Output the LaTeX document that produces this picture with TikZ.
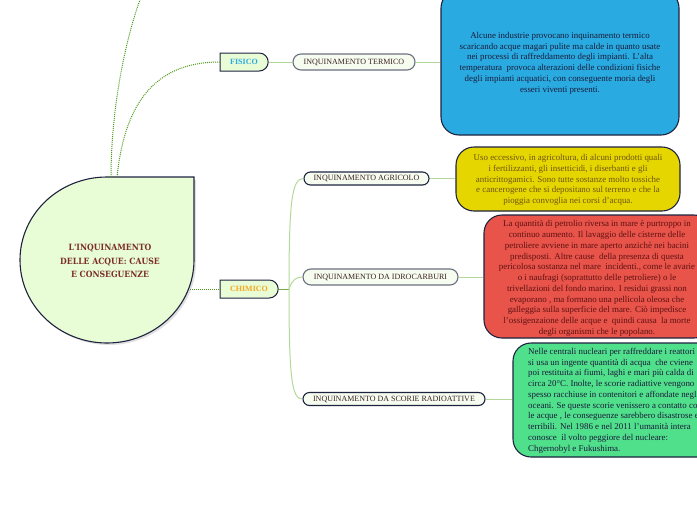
\documentclass[tikz,border=0pt]{standalone}
\usepackage{fontspec}
\setmainfont{Liberation Serif}
\newfontfamily\titlefont{DejaVu Serif Condensed}
\usetikzlibrary{shapes.misc}
\definecolor{navy}{HTML}{1E2340}
\definecolor{pillgray}{HTML}{6B7080}
\definecolor{catfill}{HTML}{E8FCD6}
\definecolor{pillfill}{HTML}{F6FDF0}
\definecolor{dotgreen}{HTML}{4F9A1C}
\definecolor{lightgreen}{HTML}{B3D89A}
\definecolor{midgreen}{HTML}{78AE4C}
\definecolor{fisicoblue}{HTML}{29A9E0}
\definecolor{chimicoorange}{HTML}{F5A820}
\definecolor{titlered}{HTML}{7B2D26}
\definecolor{pilltext}{HTML}{3B2020}
\definecolor{bluefill}{HTML}{29ABE2}
\definecolor{yellowfill}{HTML}{E6D600}
\definecolor{yellowtext}{HTML}{6B5410}
\definecolor{redfill}{HTML}{E8534A}
\definecolor{redtext}{HTML}{5E1212}
\definecolor{greenfill}{HTML}{50E08C}
\definecolor{darktext}{HTML}{1A1A38}
\tikzset{
  x=1pt, y=-1pt,
  catnode/.style={rounded rectangle, rounded rectangle west arc=none, draw=navy, line width=1pt,
    fill=catfill, inner sep=0pt, minimum width=48pt, minimum height=18pt,
    font=\fontsize{8}{9}\selectfont\bfseries},
  pill/.style={rounded rectangle, draw=navy, line width=1.1pt, fill=pillfill, inner sep=0pt,
    text=pilltext, font=\fontsize{8}{9}\selectfont},
  bigbox/.style={draw=navy, line width=1.1pt, rounded corners=18pt, inner sep=0pt},
  boxtext/.style={inner sep=0pt, font=\fontsize{8.9}{10.75}\selectfont},
  dotline/.style={draw=dotgreen, line width=1pt, densely dotted},
  lightline/.style={draw=lightgreen, line width=1pt},
  midline/.style={draw=midgreen, line width=1pt},
}
\begin{document}
\begin{tikzpicture}
\useasboundingbox (0,0) rectangle (697,520);
% central node
\fill[black!12] (196,180) -- (196,262) .. controls (196,307.8) and (157.05,345) .. (109,345)
  .. controls (60.95,345) and (22,307.8) .. (22,262)
  .. controls (22,216.2) and (60.95,179) .. (109,179) -- cycle;
\draw[navy, line width=1.1pt, fill=catfill] (194,177) -- (194,260) .. controls (194,305.8) and (155.05,343) .. (107,343)
  .. controls (58.95,343) and (20,305.8) .. (20,260)
  .. controls (20,214.2) and (58.95,177) .. (107,177) -- cycle;
\node[align=center, text=titlered, font=\titlefont\bfseries\fontsize{8.6}{13.3}\selectfont] (centre) at (110,261)
  {L'INQUINAMENTO\\DELLE ACQUE: CAUSE\\E CONSEGUENZE};
\coordinate (ctopA) at (111,177);
\coordinate (ctopB) at (117,177);
\coordinate (cright) at (190,289);
\coordinate (offtop) at (141,-3);

% category nodes
\node[catnode, text=fisicoblue] (fisico) at (244,62) {FISICO};
\node[catnode, text=chimicoorange, minimum width=58pt] (chimico) at (249,289) {CHIMICO};

% pills
\node[pill, draw=pillgray, minimum width=122pt, minimum height=16pt] (termico) at (354,62) {INQUINAMENTO TERMICO};
\node[pill, minimum width=125pt, minimum height=13pt] (agricolo) at (366.5,178.5) {INQUINAMENTO AGRICOLO};
\node[pill, draw=pillgray, minimum width=155pt, minimum height=16pt] (idro) at (380.5,277) {INQUINAMENTO DA IDROCARBURI};
\node[pill, minimum width=182pt, minimum height=13pt] (scorie) at (394,399) {INQUINAMENTO DA SCORIE RADIOATTIVE};

% big boxes
\node[bigbox, fill=bluefill, minimum width=238pt, minimum height=145pt] (blue) at (560,62.5) {};
\node[boxtext, text=darktext, align=center] (bluetext) at (560,63)
  {Alcune industrie provocano inquinamento termico\\
   scaricando acque magari pulite ma calde in quanto usate\\
   nei processi di raffreddamento degli impianti. L'alta\\
   temperatura\ \ provoca alterazioni delle condizioni fisiche\\
   degli impianti acquatici, con conseguente moria degli\\
   esseri viventi presenti.};
\node[bigbox, fill=yellowfill, minimum width=224pt, minimum height=64pt] (yellow) at (568,179) {};
\node[boxtext, text=yellowtext, align=center] (yellowtext) at (568,180)
  {Uso eccessivo, in agricoltura, di alcuni prodotti quali\\
   i fertilizzanti, gli insetticidi, i diserbanti e gli\\
   anticrittogamici. Sono tutte sostanze molto tossiche\\
   e cancerogene che si depositano sul terreno e che la\\
   pioggia convoglia nei corsi d'acqua.};
\node[bigbox, fill=redfill, minimum width=228pt, minimum height=123pt] (red) at (598,276.5) {};
\node[boxtext, text=redtext, align=center] (redtext) at (597,278.5)
  {La quantità di petrolio riversa in mare è purtroppo in\\
   continuo aumento. Il lavaggio delle cisterne delle\\
   petroliere avviene in mare aperto anzichè nei bacini\\
   predisposti. Altre cause\ \ della presenza di questa\\
   pericolosa sostanza nel mare\ \ incidenti., come le avarie\\
   o i naufragi (soprattutto delle petroliere) o le\\
   trivellazioni del fondo marino. I residui grassi non\\
   evaporano , ma formano una pellicola oleosa che\\
   galleggia sulla superficie del mare. Ciò impedisce\\
   l'ossigenzaione delle acque e\ \ quindi causa\ \ la morte\\
   degli organismi che le popolano.};
\node[bigbox, fill=greenfill, minimum width=210pt, minimum height=114pt] (green) at (618,400) {};
\node[boxtext, text=darktext, align=left, anchor=west] (greentext) at (528,400.5)
  {Nelle centrali nucleari per raffreddare i reattori\\
   si usa un ingente quantità di acqua\ \ che cviene\\
   poi restituita ai fiumi, laghi e mari più calda di\\
   circa 20°C. Inolte, le scorie radiattive vengono\\
   spesso racchiuse in contenitori e affondate negli\\
   oceani. Se queste scorie venissero a contatto con\\
   le acque , le conseguenze sarebbero disastrose e\\
   terribili. Nel 1986 e nel 2011 l'umanità intera\\
   conosce\ \ il volto peggiore del nucleare:\\
   Chgernobyl e Fukushima.};

% connectors
\draw[dotline] (ctopA) .. controls (111,110) and (125,40) .. (offtop);
\draw[dotline] (ctopB) .. controls (124,110) and (150,62) .. (fisico.west);
\draw[dotline] (cright) -- (chimico.west);
\draw[lightline] (fisico.east) -- (termico.west);
\draw[lightline] (termico.east) -- (blue.west |- termico.east);
\coordinate (branch) at (289,289);
\draw[midline] (chimico.east) -- (branch);
\draw[lightline] (branch) .. controls (289,200) and (292,178.5) .. (agricolo.west);
\draw[lightline] (branch) .. controls (292,280) and (296,277) .. (idro.west);
\draw[lightline] (branch) .. controls (289,380) and (292,399) .. (scorie.west);
\draw[lightline] (agricolo.east) -- (yellow.west |- agricolo.east);
\draw[lightline] (idro.east) -- (red.west |- idro.east);
\draw[lightline] (scorie.east) -- (green.west |- scorie.east);
\end{tikzpicture}
\end{document}
